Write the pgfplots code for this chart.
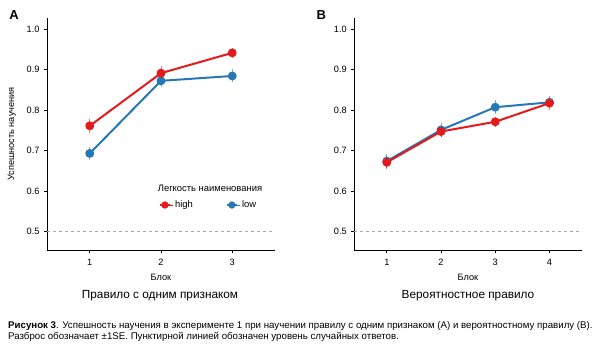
\documentclass[border=0pt]{standalone}
\usepackage{fontspec}
\setmainfont{Liberation Sans}
\usepackage{pgfplots}
\pgfplotsset{compat=1.18}
\definecolor{cred}{RGB}{228,26,28}
\definecolor{cblue}{RGB}{38,120,180}
\begin{document}
\begin{tikzpicture}[x=1pt,y=1pt]
\useasboundingbox (0pt,0pt) rectangle (608pt,357pt);
\pgfplotsset{
  panel/.style={
    scale only axis, height=232.3pt,
    axis lines=left, axis line style={-, line width=0.9pt},
    ymin=0.454, ymax=1.027, xmin=0.4, xmax=4.6,
    ytick={0.5,0.6,0.7,0.8,0.9,1.0},
    yticklabel style={/pgf/number format/.cd, fixed, fixed zerofill, precision=1, /tikz/.cd, xshift=-1pt},
    xticklabel style={yshift=-2pt},
    tick align=outside, major tick length=3pt,
    tick style={black, line width=0.8pt},
    ticklabel style={font=\fontsize{9.2}{10}\selectfont},
    /pgf/number format/assume math mode=true,
    clip=false,
  },
  ser/.style={line width=2pt, mark=*, mark size=3.4pt,
    error bars/y dir=both, error bars/y explicit,
    error bars/error bar style={line width=1pt, opacity=0.6},
    error bars/error mark=none},
}
% Panel A
\begin{axis}[panel, at={(47pt,106.7pt)}, anchor=south west, width=228pt,
  xmin=0.4, xmax=3.6, xtick={1,2,3},
  legend columns=2,
  legend style={draw=none, fill=none, inner sep=0pt,
    at={(0.49,0.195)}, anchor=west,
    font=\fontsize{9.4}{10}\selectfont,
    /tikz/every even column/.append style={column sep=31pt}},
  legend image code/.code={\path (0pt,0pt) -- (13pt,0pt);
     \draw[line width=2pt] (0pt,0pt) -- (10pt,0pt);
     \fill (5pt,0pt) circle (3.4pt);},
]
\addlegendimage{cred}
\addlegendentry{high}
\addlegendimage{cblue}
\addlegendentry{low}
\addplot[gray!70, dash pattern=on 3pt off 3pt, line width=0.8pt, forget plot] coordinates {(0.4,0.5) (3.6,0.5)};
\addplot[color=cblue, ser, forget plot] coordinates {
 (1,0.693) +- (0,0.016)
 (2,0.872) +- (0,0.015)
 (3,0.884) +- (0,0.016)};
\addplot[color=cred, ser, forget plot] coordinates {
 (1,0.761) +- (0,0.018)
 (2,0.891) +- (0,0.018)
 (3,0.941) +- (0,0.012)};
\end{axis}
% Panel B
\begin{axis}[panel, at={(354.3pt,106.7pt)}, anchor=south west, width=227.7pt,
  xmin=0.4, xmax=4.6, xtick={1,2,3,4}]
\addplot[gray!70, dash pattern=on 3pt off 3pt, line width=0.8pt] coordinates {(0.4,0.5) (4.6,0.5)};
\addplot[color=cblue, ser] coordinates {
 (1,0.674) +- (0,0.017)
 (2,0.751) +- (0,0.017)
 (3,0.807) +- (0,0.017)
 (4,0.819) +- (0,0.015)};
\addplot[color=cred, ser] coordinates {
 (1,0.671) +- (0,0.016)
 (2,0.747) +- (0,0.014)
 (3,0.771) +- (0,0.012)
 (4,0.817) +- (0,0.016)};
\end{axis}
% texts
\node[font=\fontsize{9.4}{10}\selectfont] at (210pt,169pt) {Легкость наименования};
\node[font=\fontsize{9.2}{10}\selectfont, rotate=90] at (12pt,223pt) {Успешность научения};
\node[font=\fontsize{9.2}{10}\selectfont] at (161pt,80pt) {Блок};
\node[font=\fontsize{9.2}{10}\selectfont] at (468pt,80pt) {Блок};
\node[font=\fontsize{11.8}{13}\selectfont] at (160pt,61pt) {Правило с одним признаком};
\node[font=\fontsize{11.8}{13}\selectfont] at (468pt,61pt) {Вероятностное правило};
\node[font=\fontsize{13}{14}\bfseries] at (14pt,342pt) {A};
\node[font=\fontsize{13}{14}\bfseries] at (321.3pt,342pt) {B};
\node[font=\fontsize{9.7}{11}\selectfont, anchor=base west, inner sep=0pt] at (8pt,29pt) {\textbf{Рисунок 3}. Успешность научения в эксперименте 1 при научении правилу с одним признаком (A) и вероятностному правилу (B).};
\node[font=\fontsize{9.7}{11}\selectfont, anchor=base west, inner sep=0pt] at (8pt,18pt) {Разброс обозначает ±1SE. Пунктирной линией обозначен уровень случайных ответов.};
\end{tikzpicture}
\end{document}
